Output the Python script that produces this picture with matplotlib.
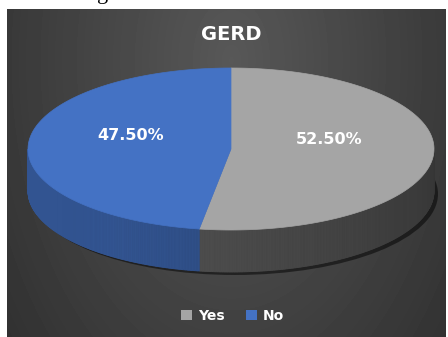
import numpy as np
import matplotlib.pyplot as plt
from matplotlib.patches import Polygon, Rectangle, Ellipse
import matplotlib.colors as mcolors

categories = ['Yes', 'No']
values = [52.5, 47.5]
labels = ['52.50%', '47.50%']
colors = ['#A5A5A5', '#4472C4']
title = 'GERD'

W, H = 448, 337
fig = plt.figure(figsize=(4.48, 3.37), dpi=100)
fig.patch.set_facecolor('white')
ax = fig.add_axes([0, 0, 1, 1])

# dark panel background with radial gradient
x0, y0, x1, y1 = 7, 9, 446, 337
yy, xx = np.mgrid[y0:y1, x0:x1]
d = np.sqrt(((xx - 231) / 260.0) ** 2 + ((yy - 60) / 420.0) ** 2)
img = np.clip(0.345 - 0.14 * d, 0, 1)
ax.imshow(img, cmap='gray', vmin=0, vmax=1, extent=(x0, x1, y1, y0),
          aspect='auto', interpolation='bilinear', zorder=0)

# fragment of the document text above the chart
ax.text(103, -1, 'g', fontsize=16, family='Liberation Serif', color='black',
        ha='center', va='baseline', zorder=-1)

# pie geometry
cx, cy, rx, ry, depth = 231, 149, 203, 81, 42

def pt(t, dy=0):
    r = np.radians(t)
    return cx + rx * np.cos(r), cy - ry * np.sin(r) + dy

# shadow
ax.add_patch(Ellipse((cx + 4, cy + depth + 3), 2 * rx, 2 * ry, color='black',
                     alpha=0.5, zorder=1, lw=0))

total = sum(values)
start = 90.0
spans = []
for v in values:
    sweep = 360.0 * v / total
    spans.append((start, start - sweep))
    start -= sweep

def shade(c, f):
    rgb = np.array(mcolors.to_rgb(c))
    return tuple(np.clip(rgb * f, 0, 1))

# side walls (front half: angles between -180 and 0)
for (a0, a1), c, name in zip(spans, colors, categories):
    ts = np.linspace(a0, a1, 400)
    for i in range(len(ts) - 1):
        tm = 0.5 * (ts[i] + ts[i + 1])
        tmn = ((tm + 180) % 360) - 180
        if not (-180 <= tmn <= 0):
            continue
        u = (tmn + 180) / 180.0  # 0 at left, 1 at right
        if name == 'No':
            f = 0.74 - 0.24 * max(0, (u - 0.3)) / 0.7
        else:
            f = 0.58 - 0.26 * u
        p1 = pt(ts[i]); p2 = pt(ts[i + 1])
        q2 = pt(ts[i + 1], depth); q1 = pt(ts[i], depth)
        col = shade(c, f)
        ax.add_patch(Polygon([p1, p2, q2, q1], closed=True, facecolor=col,
                             edgecolor=col, lw=0.6, zorder=2))

# top faces
for (a0, a1), c in zip(spans, colors):
    ts = np.linspace(a0, a1, 300)
    pts = [(cx, cy)] + [pt(t) for t in ts]
    ax.add_patch(Polygon(pts, closed=True, facecolor=c, edgecolor=c, lw=0.5,
                         zorder=3))

# labels
label_pos = {'Yes': (329, 140), 'No': (131, 135)}
for name, lab in zip(categories, labels):
    x, y = label_pos[name]
    ax.text(x, y, lab, color='white', fontsize=11.5, fontweight='bold',
            ha='center', va='center', zorder=5)

# title
ax.text(231, 35, title, color='white', fontsize=14, fontweight='bold',
        ha='center', va='center', zorder=5)

# legend
leg_items = [(181, 'Yes'), (246, 'No')]
for (lx, name), c in zip(leg_items, colors):
    ax.add_patch(Rectangle((lx, 310), 11, 10, facecolor=c, edgecolor='none',
                           zorder=5))
    ax.text(lx + 17, 315.5, name, color='white', fontsize=10,
            fontweight='bold', ha='left', va='center', zorder=5)

ax.set_xlim(0, W)
ax.set_ylim(H, 0)
ax.axis('off')
fig.savefig('out.png', dpi=100, facecolor='white')
